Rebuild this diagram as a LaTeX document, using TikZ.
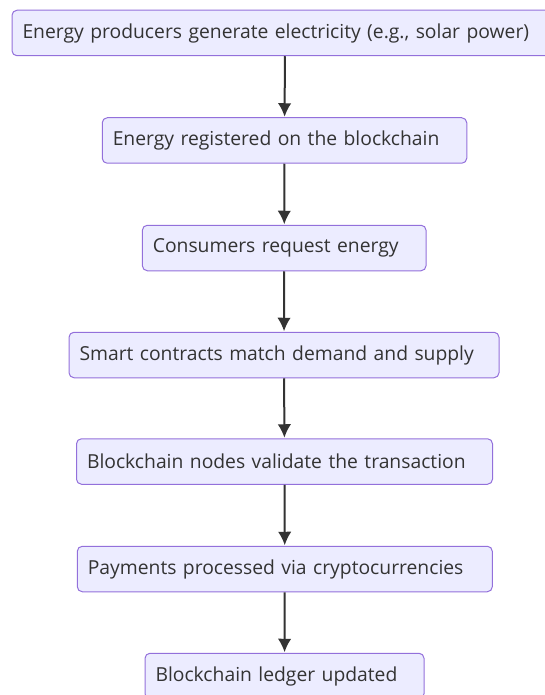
\documentclass[tikz,border=0pt]{standalone}
\usepackage{fontspec}
\setmainfont{Open Sans}
\usepackage{tikz}
\usetikzlibrary{arrows.meta,positioning}
\definecolor{stagefill}{HTML}{ECECFF}
\definecolor{stageline}{HTML}{9370DB}
\definecolor{ink}{HTML}{333333}
\tikzset{
  stage/.style={draw=stageline, fill=stagefill, line width=1pt, rounded corners=5pt,
    minimum height=45.5pt, inner xsep=10.5pt, inner ysep=0pt, text width=#1, align=left,
    text=ink, font=\fontsize{19.3}{22}\selectfont},
  flow/.style={line width=2pt, draw=ink, -{Latex[length=13.5pt,width=13.5pt]}, shorten >=0.5pt}
}
\begin{document}
\begin{tikzpicture}[x=1pt,y=-1pt]
			\clip (0,0) rectangle (545,695);
			\useasboundingbox (0,0) rectangle (545,695);
			\node[stage=525pt] (prod) at (285,33) {Energy producers generate electricity (e.g., solar power)};
			\node[stage=343.5pt] (reg) at (284.5,140.5) {Energy registered on the blockchain};
			\node[stage=262.7pt] (req) at (284.2,248) {Consumers request energy};
			\node[stage=409pt] (match) at (284,355) {Smart contracts match demand and supply};
			\node[stage=395pt] (valid) at (284.5,461.5) {Blockchain nodes validate the transaction};
			\node[stage=394pt] (pay) at (284.8,569) {Payments processed via cryptocurrencies};
			\node[stage=258pt] (ledger) at (284.5,676) {Blockchain ledger updated};
			\draw[flow] (prod) -- (reg);
			\draw[flow] (reg) -- (req);
			\draw[flow] (req) -- (match);
			\draw[flow] (match) -- (valid);
			\draw[flow] (valid) -- (pay);
			\draw[flow] (pay) -- (ledger);
		\end{tikzpicture}
\end{document}
